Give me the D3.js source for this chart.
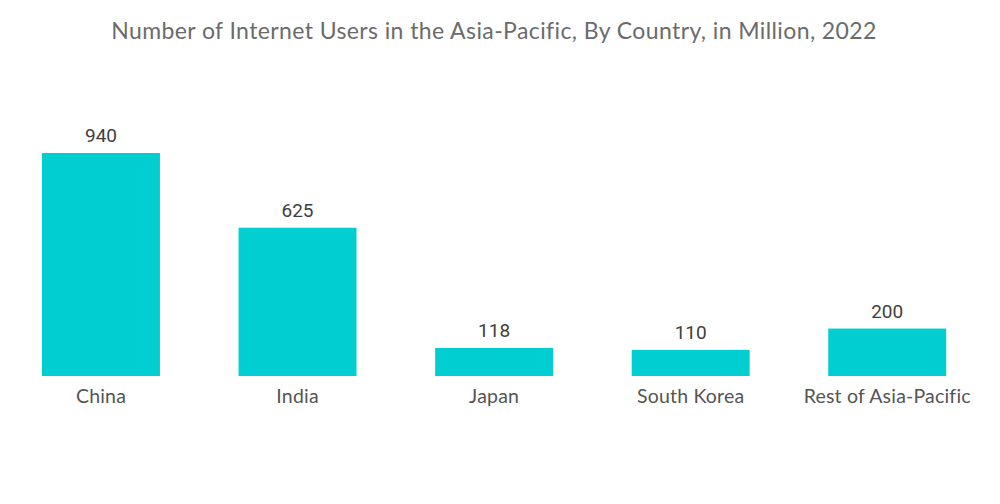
<!DOCTYPE html>
<html><head><meta charset="utf-8">
<script src="https://cdn.jsdelivr.net/npm/d3@7/dist/d3.min.js"></script>
<style>body{margin:0;background:#fff}</style>
</head><body>
<svg id="c" width="1000" height="504"></svg>
<script>
const categories = ["China","India","Japan","South Korea","Rest of Asia-Pacific"];
const values = [940,625,118,110,200];
const title = "Number of Internet Users in the Asia-Pacific, By Country, in Million, 2022";

const svg = d3.select("#c");
const x = d3.scaleBand().domain(categories).range([2.7,985.5]).paddingInner(0.4).paddingOuter(0.2);
const y = d3.scaleLinear().domain([0,940]).range([376,153]);

svg.append("text").attr("x",494).attr("y",39).attr("text-anchor","middle")
  .attr("font-family","Lato, 'Open Sans', sans-serif").attr("font-size",23).attr("letter-spacing",0.4)
  .attr("fill","#6b6b6b").text(title);

svg.selectAll("rect.bar").data(values).join("rect").attr("class","bar")
  .attr("x",(d,i)=>x(categories[i])).attr("width",x.bandwidth())
  .attr("y",d=>y(d)).attr("height",d=>y(0)-y(d)).attr("fill","#00ced1");

svg.selectAll("text.val").data(values).join("text").attr("class","val")
  .attr("x",(d,i)=>x(categories[i])+x.bandwidth()/2).attr("y",d=>y(d)-11)
  .attr("text-anchor","middle").attr("font-family","Roboto, sans-serif").attr("font-size",19)
  .attr("fill","#404040").text(d=>d);

const xAxis = d3.axisBottom(x).tickSize(0).tickPadding(13);
const g = svg.append("g").attr("transform","translate(0,376)").call(xAxis);
g.select(".domain").remove();
g.selectAll("text").attr("font-family","Lato, 'Open Sans', sans-serif").attr("font-size",19.5)
  .attr("letter-spacing",0.2).attr("fill","#555");
</script>
</body></html>
